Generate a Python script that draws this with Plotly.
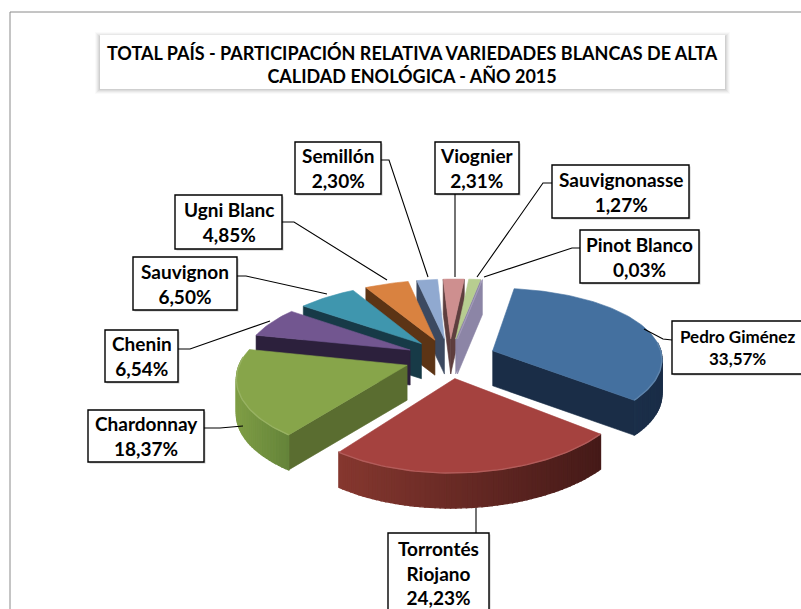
import math
import plotly.graph_objects as go

# --- data -------------------------------------------------------------
varieties = ["Pedro Giménez", "Torrontés Riojano", "Chardonnay", "Chenin", "Sauvignon",
             "Ugni Blanc", "Semillón", "Viognier", "Sauvignonasse", "Pinot Blanco"]
label_lines = [["Pedro Giménez"], ["Torrontés", "Riojano"], ["Chardonnay"], ["Chenin"], ["Sauvignon"],
               ["Ugni Blanc"], ["Semillón"], ["Viognier"], ["Sauvignonasse"], ["Pinot Blanco"]]
shares = [33.57, 24.23, 18.37, 6.54, 6.50, 4.85, 2.30, 2.31, 1.27, 0.03]
title_lines = ["TOTAL PAÍS - PARTICIPACIÓN RELATIVA VARIEDADES BLANCAS DE ALTA",
               "CALIDAD ENOLÓGICA - AÑO 2015"]

# --- styles -----------------------------------------------------------
top_col = ["#44709f", "#a5423f", "#87a54a", "#725690", "#3f96ae", "#d98240", "#90a9d0", "#ce8f8f", "#b7cd90", "#a9a0c0"]
wall_col = ["#1a2d47", "#4a1b18", "#5a6d30", "#2c203c", "#173a47", "#5c3415", "#3c4960", "#5e3e3e", "#8c85a6", "#8c85a6"]
rim_left = ["#1f3654", "#85372f", "#7f9e45", "#3a2b4e", "#1f4a5a", "#6e3f1a", "#4a5a75", "#7a5050", "#8c85a6", "#8c85a6"]
rim_right = ["#1a2d47", "#451a18", "#64833a", "#2c203c", "#173a47", "#5c3415", "#3c4960", "#5e3e3e", "#8c85a6", "#8c85a6"]

# box: (x0, y0, x1, y1) in page pixels; leader: polyline in page pixels
boxes = [(672, 321, 824, 374), (388, 533, 489, 620), (88, 410, 204, 462), (105, 330, 178, 382),
         (133, 257, 237, 310), (175, 195, 282, 249), (295, 142, 381, 194), (435, 142, 519, 194),
         (552, 165, 689, 218), (580, 230, 699, 283)]
leaders = [[(672, 340), (663, 339), (644, 329)],
           [(476, 533), (476, 508)],
           [(204, 428), (220, 428), (243, 426)],
           [(178, 349), (190, 349), (270, 321)],
           [(237, 276), (246, 276), (327, 294)],
           [(282, 222), (294, 222), (387, 280)],
           [(381, 160), (389, 160), (428, 277)],
           [(455, 194), (455, 277)],
           [(552, 183), (543, 183), (477, 277)],
           [(580, 248), (572, 248), (484, 277)]]
# label text centre x and font size, where they differ from the box centre / default
label_x = {0: 737}
label_size = {0: 17}

CX, CY, A_RIGHT, A_LEFT, B, KX, KY, SHEAR = 450.0, 358.0, 170.0, 166.0, 73.8, 0.12, 0.147, 5.0
EXPLODE, DEPTH, START = 0.27, 35.0, 8.0


def project(X, Y):
    a = A_RIGHT if X >= 0 else A_LEFT
    return CX + a * X / (1 + KX * Y) + SHEAR * Y, CY - B * Y / (1 + KY * Y)


def mix(c1, c2, t):
    a = [int(c1[i:i + 2], 16) for i in (1, 3, 5)]
    b = [int(c2[i:i + 2], 16) for i in (1, 3, 5)]
    return "rgb(%d,%d,%d)" % tuple(round(p + (q - p) * t) for p, q in zip(a, b))


fig = go.Figure()


def poly(pts, color, width=0.6):
    fig.add_trace(go.Scatter(x=[p[0] for p in pts] + [pts[0][0]], y=[p[1] for p in pts] + [pts[0][1]],
                             mode="lines", fill="toself", fillcolor=color,
                             line=dict(color=color, width=width), hoverinfo="skip", showlegend=False))


def path(pts, color, width):
    fig.add_trace(go.Scatter(x=[p[0] for p in pts], y=[p[1] for p in pts], mode="lines",
                             line=dict(color=color, width=width), hoverinfo="skip", showlegend=False))


def down(p):
    return (p[0], p[1] + DEPTH)


# --- build wedges from the shares ----------------------------------------
total = sum(shares)
wedges = []
angle = START
for i, v in enumerate(shares):
    sweep = 360.0 * v / total
    wedges.append((i, angle, angle + sweep))
    angle += sweep


def wedge_geom(a0, a1):
    mid = math.radians((a0 + a1) / 2)
    ox, oy = EXPLODE * math.sin(mid), EXPLODE * math.cos(mid)
    n = max(3, int((a1 - a0) / 1.5))
    ang = [math.radians(a0 + (a1 - a0) * j / n) for j in range(n + 1)]
    ground = [(ox + math.sin(t), oy + math.cos(t)) for t in ang]
    return (ox, oy), ground, ang


order = sorted(wedges, key=lambda w: -wedge_geom(w[1], w[2])[0][1])
for i, a0, a1 in order:
    apex_g, arc_g, ang = wedge_geom(a0, a1)
    apex = project(*apex_g)
    arc = [project(*g) for g in arc_g]
    cxs = sum(p[0] for p in arc + [apex]) / (len(arc) + 1)
    cys = sum(p[1] for p in arc + [apex]) / (len(arc) + 1)
    # radial walls: draw those lying on the viewer's side of the top face
    for corner in (arc[0], arc[-1]):
        dx = corner[0] - apex[0]
        if abs(dx) < 1e-6:
            continue
        line_y = apex[1] + (corner[1] - apex[1]) * (cxs - apex[0]) / dx
        if cys < line_y:
            poly([apex, corner, down(corner), down(apex)], wall_col[i])
    # outer rim, front half only, shaded left to right
    xs = [p[0] for p in arc]
    xmin, xmax = min(xs), max(xs)
    for j in range(len(arc) - 1):
        if math.cos((ang[j] + ang[j + 1]) / 2) < 0.12:
            t = ((arc[j][0] + arc[j + 1][0]) / 2 - xmin) / max(xmax - xmin, 1)
            poly([arc[j], arc[j + 1], down(arc[j + 1]), down(arc[j])], mix(rim_left[i], rim_right[i], t), 1.4)
    poly([apex] + arc, top_col[i])
    front = [arc[j] for j in range(len(arc)) if math.cos(ang[j]) < 0.12]
    if len(front) > 1:
        path(front, mix(top_col[i], "#ffffff", 0.14), 1.4)

# --- outer frame, title box, labels ---------------------------------------
shapes = [dict(type="rect", x0=10, y0=12, x1=830, y1=640, line=dict(color="#8a8a8a", width=1), fillcolor="white", layer="below")]
for off, alpha in ((5, 0.02), (4, 0.03), (3, 0.04), (2, 0.05), (1, 0.06)):
    shapes.append(dict(type="rect", x0=100 - off, y0=35 - off + 2, x1=725 + off, y1=89 + off,
                       line=dict(width=0), fillcolor="rgba(0,0,0,%s)" % alpha, layer="below"))
shapes.append(dict(type="rect", x0=100, y0=35, x1=725, y1=89, line=dict(width=0), fillcolor="white", layer="below"))
annotations = [dict(x=412, y=64, xref="x", yref="y", showarrow=False, align="center", yanchor="middle",
                    text="<br>".join("<b>%s</b>" % t for t in title_lines),
                    font=dict(family="Lato", size=18, color="#000000"))]
for i, b in enumerate(boxes):
    shapes.append(dict(type="rect", x0=b[0] + 1.5, y0=b[1] + 1.5, x1=b[2] + 1.5, y1=b[3] + 1.5,
                       line=dict(width=0), fillcolor="rgba(0,0,0,0.22)"))
    shapes.append(dict(type="rect", x0=b[0], y0=b[1], x1=b[2], y1=b[3],
                       line=dict(color="#000000", width=1.4), fillcolor="white"))
    path(leaders[i], "#000000", 1.1)
    pct = ("%.2f%%" % shares[i]).replace(".", ",")
    text = "<br>".join("<b>%s</b>" % t for t in label_lines[i] + [pct])
    ymid = (b[1] + b[3]) / 2 if b[3] < 609 else 573
    annotations.append(dict(x=label_x.get(i, (b[0] + b[2]) / 2), y=ymid, xref="x", yref="y", showarrow=False,
                            align="center", xanchor="center", yanchor="middle", text=text,
                            font=dict(family="Lato", size=label_size.get(i, 19), color="#000000")))

fig.update_layout(width=801, height=609, margin=dict(l=0, r=0, t=0, b=0), autosize=False,
                  paper_bgcolor="white", plot_bgcolor="white", showlegend=False,
                  xaxis=dict(range=[0, 801], visible=False, fixedrange=True),
                  yaxis=dict(range=[609, 0], visible=False, fixedrange=True),
                  shapes=shapes, annotations=annotations)
fig.write_html("out.html", post_script="document.body.style.margin='0';document.body.style.overflow='hidden';",
               config=dict(displayModeBar=False))
